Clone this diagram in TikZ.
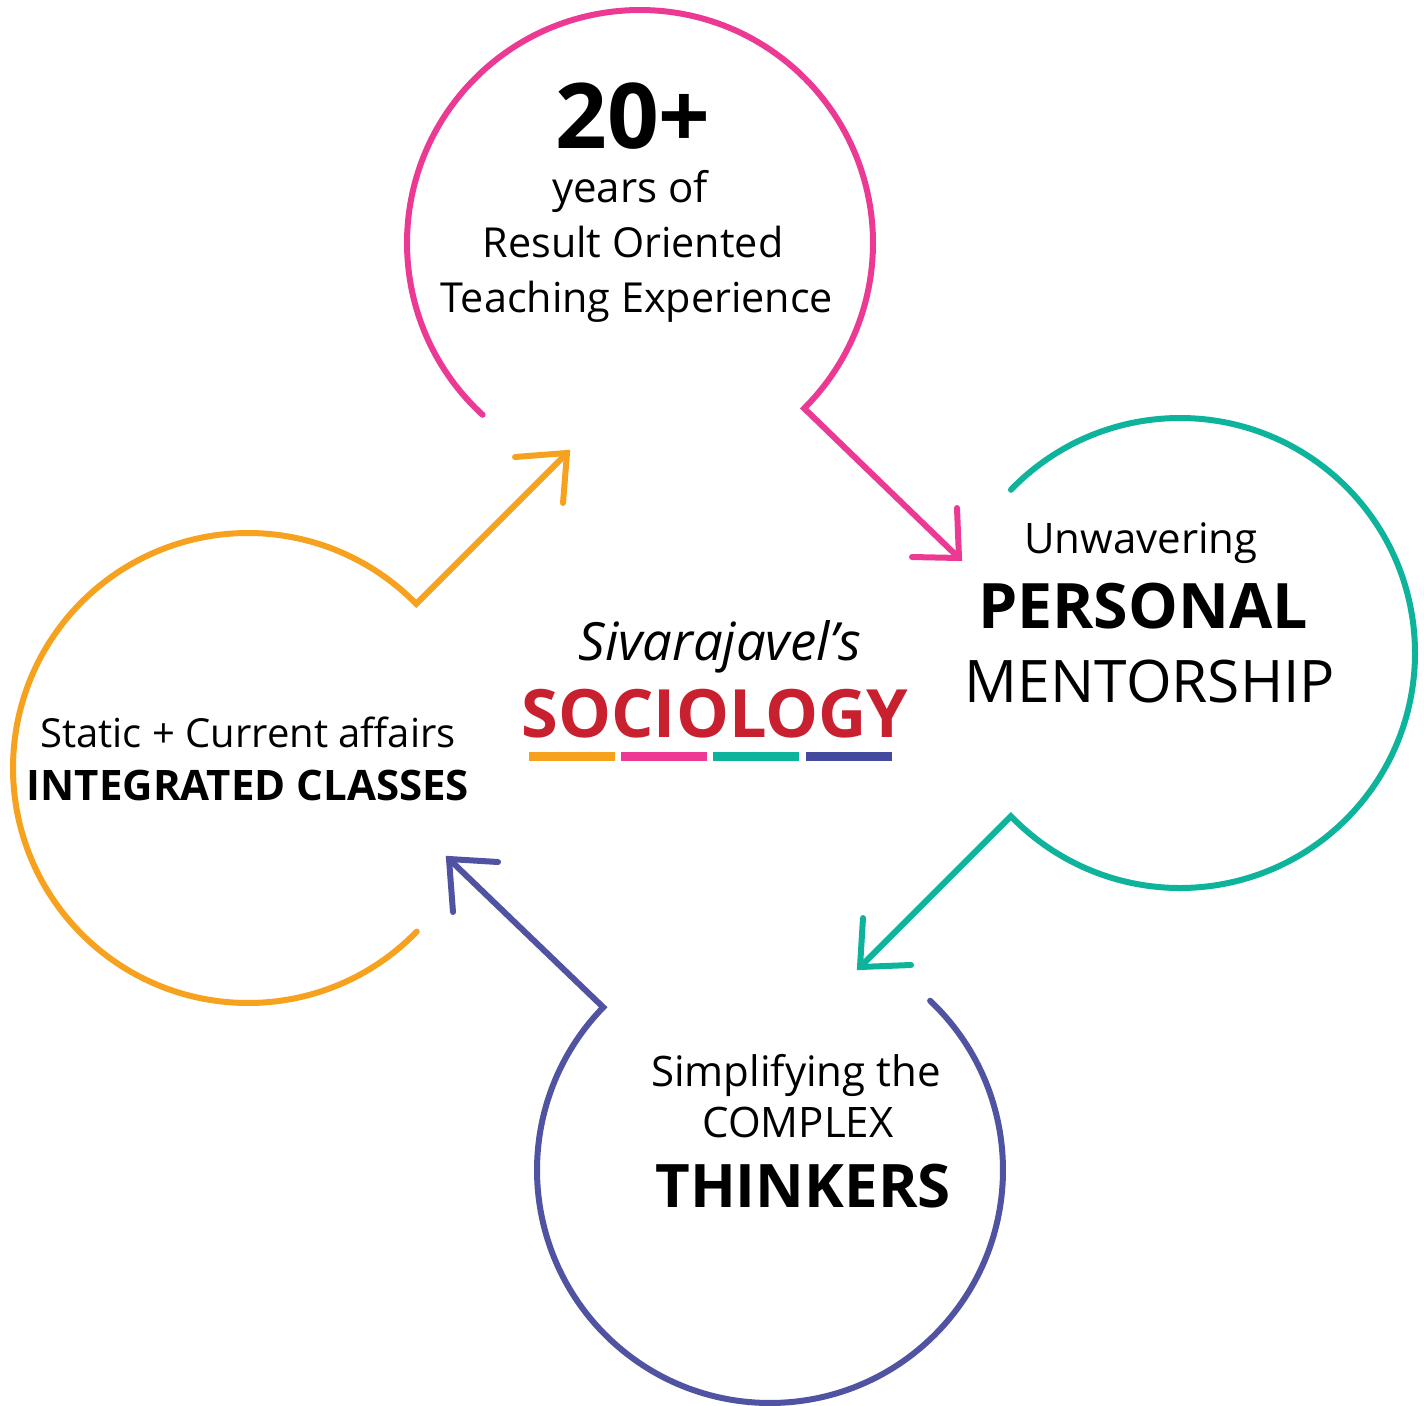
\documentclass[tikz,border=0pt]{standalone}
\usepackage{fontspec}
\setmainfont{Open Sans}
\definecolor{pinkc}{HTML}{EC3A94}
\definecolor{tealc}{HTML}{0DB39A}
\definecolor{purpc}{HTML}{5053A1}
\definecolor{orngc}{HTML}{F7A21E}
\definecolor{redc}{HTML}{C8202F}
\definecolor{barpurp}{HTML}{434A9E}
\begin{document}
\begin{tikzpicture}[x=0.75pt,y=-0.75pt,
  bubble/.style={line width=4.5pt,line cap=round,line join=miter},
  tiphead/.style={line width=4.5pt,line cap=round,line join=miter},
  lbl/.style={anchor=base,inner sep=0pt,text=black},
  bar/.style={inner sep=0pt,minimum height=6.75pt,minimum width=64.5pt}]
\useasboundingbox (0,0) rectangle (1424,1406);
% ---------- centres and arrow tips ----------
\coordinate (cP) at (640,243);
\coordinate (cT) at (1180,653);
\coordinate (cU) at (770,1170);
\coordinate (cO) at (248,768);
\coordinate (tipP) at (959,558);
\coordinate (tipT) at (860,967);
\coordinate (tipU) at (449,859);
\coordinate (tipO) at (567,453);
% ---------- pink bubble ----------
\draw[bubble,pinkc] ([shift={(132.5:233)}]cP) arc[start angle=132.5,end angle=405.2,radius=233] -- (tipP);
\draw[tiphead,pinkc] (912,557) -- (tipP) -- (957,508);
% ---------- teal bubble ----------
\draw[bubble,tealc] ([shift={(224:235)}]cT) arc[start angle=224,end angle=496,radius=235] -- (tipT);
\draw[tiphead,tealc] (863,918) -- (tipT) -- (911,965);
% ---------- purple bubble ----------
\draw[bubble,purpc] ([shift={(-46.6:233)}]cU) arc[start angle=-46.6,end angle=224.3,radius=233] -- (tipU);
\draw[tiphead,purpc] (498,862) -- (tipU) -- (453,912);
% ---------- orange bubble ----------
\draw[bubble,orngc] ([shift={(44.1:235)}]cO) arc[start angle=44.1,end angle=315.7,radius=235] -- (tipO);
\draw[tiphead,orngc] (515,457) -- (tipO) -- (563,503);
% ---------- texts: pink ----------
\node[lbl,font=\fontsize{68}{74}\selectfont\bfseries] (p1) at (633,148) {20+};
\node[lbl,font=\fontsize{31.5}{36}\selectfont] (p2) at (630,202) {years of};
\node[lbl,font=\fontsize{31}{36}\selectfont] (p3) at (633,257) {Result Oriented};
\node[lbl,font=\fontsize{31}{36}\selectfont] (p4) at (637,312) {Teaching Experience};
% ---------- texts: teal ----------
\node[lbl,font=\fontsize{31.5}{36}\selectfont] (t1) at (1141,553) {Unwavering};
\node[lbl,font=\fontsize{47}{52}\selectfont\bfseries] (t2) at (1143,628) {PERSONAL};
\node[lbl,font=\fontsize{44}{50}\selectfont] (t3) at (1150,702) {MENTORSHIP};
% ---------- texts: purple ----------
\node[lbl,font=\fontsize{31.5}{36}\selectfont] (u1) at (796,1086) {Simplifying the};
\node[lbl,font=\fontsize{31.5}{36}\selectfont] (u2) at (798,1137) {COMPLEX};
\node[lbl,font=\fontsize{45}{52}\selectfont\bfseries] (u3) at (803,1207) {THINKERS};
% ---------- texts: orange ----------
\node[lbl,font=\fontsize{30}{36}\selectfont] (o1) at (248,747) {Static + Current affairs};
\node[lbl,font=\fontsize{31.5}{36}\selectfont\bfseries] (o2) at (248,800) {INTEGRATED CLASSES};
% ---------- centre logo ----------
\node[lbl,font=\fontsize{39.5}{46}\selectfont\itshape] (c1) at (720,660) {Sivarajavel’s};
\node[lbl,font=\fontsize{50}{58}\selectfont\bfseries,text=redc] (c2) at (715,737) {SOCIOLOGY};
\node[bar,fill=orngc] (b1) at (572,756.5) {};
\node[bar,fill=pinkc] (b2) at (664,756.5) {};
\node[bar,fill=tealc] (b3) at (756,756.5) {};
\node[bar,fill=barpurp] (b4) at (849,756.5) {};
\end{tikzpicture}
\end{document}
